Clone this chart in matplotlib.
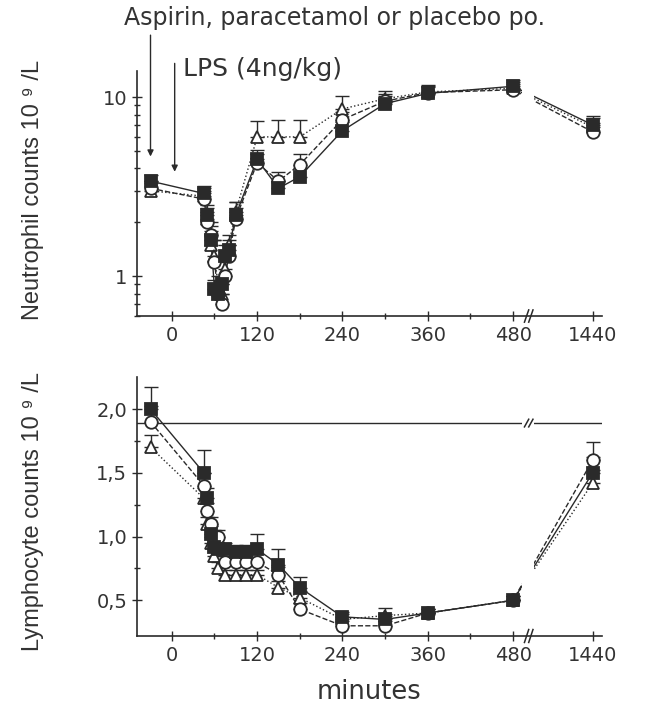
import matplotlib
matplotlib.use('Agg')
import matplotlib.pyplot as plt
import numpy as np
from matplotlib.ticker import FixedLocator, NullFormatter
import matplotlib.transforms as mtransforms

# time points (minutes); 1440 is drawn after the axis break
t_neut = [-30, 45, 50, 55, 60, 65, 70, 75, 80, 90, 120, 150, 180, 240, 300, 360, 480, 1440]
neut_asp = [3.4, 2.9, 2.2, 1.6, 0.85, 0.8, 0.9, 1.3, 1.4, 2.2, 4.5, 3.1, 3.6, 6.5, 9.2, 10.5, 11.5, 7.0]
neut_par = [3.1, 2.7, 2.0, 1.7, 1.2, 0.8, 0.7, 1.0, 1.3, 2.1, 4.3, 3.4, 4.2, 7.5, 9.5, 10.6, 11.0, 6.4]
neut_pla = [3.0, 2.8, 2.1, 1.5, 1.3, 0.9, 0.8, 1.1, 1.5, 2.3, 6.0, 6.0, 6.0, 8.6, 9.8, 10.7, 11.2, 6.8]
neut_asp_err = [0.3, 0.3, 0.3, 0.3, 0.1, 0.1, 0.1, 0.2, 0.2, 0.4, 0.6, 0.3, 0.4, 0.8, 0.9, 0.9, 0.9, 0.9]
neut_par_err = [0.3, 0.3, 0.3, 0.3, 0.4, 0.1, 0.1, 0.2, 0.2, 0.3, 0.5, 0.4, 0.6, 0.8, 0.9, 0.9, 0.9, 0.8]
neut_pla_err = [0.3, 0.3, 0.3, 0.3, 0.3, 0.1, 0.1, 0.2, 0.2, 0.3, 1.4, 1.5, 1.5, 1.5, 1.0, 1.0, 1.0, 0.9]

t_lymph = [-30, 45, 50, 55, 60, 65, 75, 90, 105, 120, 150, 180, 240, 300, 360, 480, 1440]
lymph_asp = [2.0, 1.5, 1.3, 1.02, 0.92, 0.9, 0.9, 0.88, 0.88, 0.9, 0.78, 0.6, 0.37, 0.35, 0.4, 0.5, 1.5]
lymph_par = [1.9, 1.4, 1.2, 1.1, 1.0, 1.0, 0.8, 0.8, 0.8, 0.8, 0.7, 0.43, 0.3, 0.3, 0.4, 0.5, 1.6]
lymph_pla = [1.7, 1.3, 1.1, 0.95, 0.85, 0.75, 0.7, 0.7, 0.7, 0.7, 0.6, 0.52, 0.35, 0.38, 0.4, 0.5, 1.42]
lymph_asp_err = [0.17, 0.18, 0.08, 0.06, 0.05, 0.05, 0.05, 0.05, 0.05, 0.12, 0.12, 0.08, 0.04, 0.04, 0.03, 0.03, 0.12]
lymph_par_err = [0.12, 0.1, 0.06, 0.05, 0.05, 0.05, 0.05, 0.05, 0.05, 0.06, 0.06, 0.05, 0.04, 0.04, 0.03, 0.03, 0.14]
lymph_pla_err = [0.1, 0.08, 0.05, 0.05, 0.05, 0.05, 0.04, 0.04, 0.04, 0.04, 0.05, 0.05, 0.04, 0.06, 0.03, 0.03, 0.1]
lymph_ref = 1.89

xtick_vals = [0, 120, 240, 360, 480, 1440]
xtick_labels = ['0', '120', '240', '360', '480', '1440']
minor_x = [60, 180, 300, 420]

# position used for the 1440 point after the break
POS_1440 = 592
BREAK = (493, 509)
ink = '#2a2a2a'
txt = '#333333'
plt.rcParams['font.family'] = ['Liberation Sans', 'DejaVu Sans']


def xpos(t):
    return [POS_1440 if v == 1440 else v for v in t]


def draw_series(ax, t, y, err, marker, face, ls):
    x = xpos(t)
    ax.plot(x, y, color=ink, lw=1.0, ls=ls, zorder=2)
    ax.errorbar(x, y, yerr=[np.zeros(len(err)), err], fmt='none', ecolor=ink,
                elinewidth=1.0, capsize=5, capthick=1.0, zorder=2.8)
    ax.plot(x, y, ls='none', marker=marker, ms=9, mfc=face, mec=ink, mew=1.3, zorder=3)


def style_axes(ax):
    for s in ['top', 'right']:
        ax.spines[s].set_visible(False)
    for s in ['left', 'bottom']:
        ax.spines[s].set_color(ink)
        ax.spines[s].set_linewidth(1.2)
        ax.spines[s].set_zorder(4)
    ax.set_xlim(-49, 605)
    ax.set_xticks([xpos([v])[0] for v in xtick_vals])
    ax.set_xticklabels(xtick_labels, family='DejaVu Sans')
    ax.xaxis.set_minor_locator(FixedLocator(minor_x))
    ax.tick_params(which='major', direction='inout', length=7, width=1, colors=ink,
                   labelsize=14, labelcolor=txt)
    ax.tick_params(which='minor', direction='inout', length=4, width=1, colors=ink)
    for lab in ax.get_yticklabels():
        lab.set_family('DejaVu Sans')
    # white gap over the data lines at the break
    ax.axvspan(BREAK[0], BREAK[1], ymin=0.012, ymax=1, color='white', zorder=2.9, lw=0)
    # break marks on the x axis
    trans = mtransforms.blended_transform_factory(ax.transData, ax.transAxes)
    for dx in (0, 6):
        ax.plot([BREAK[0] + 3 + dx, BREAK[0] + 9 + dx], [-0.025, 0.025], color=ink,
                lw=1.1, transform=trans, clip_on=False, zorder=5)


fig = plt.figure(figsize=(6.53, 7.15), dpi=100)
ax1 = fig.add_axes([0.2098, 0.558, 0.712, 0.3427])
ax2 = fig.add_axes([0.2098, 0.1105, 0.712, 0.362])

# Neutrophils
draw_series(ax1, t_neut, neut_pla, neut_pla_err, '^', 'white', ':')
draw_series(ax1, t_neut, neut_par, neut_par_err, 'o', 'white', '--')
draw_series(ax1, t_neut, neut_asp, neut_asp_err, 's', ink, '-')
ax1.set_yscale('log')
ax1.set_ylim(0.6, 14)
ax1.set_yticks([1, 10])
ax1.set_yticklabels(['1', '10'])
ax1.yaxis.set_minor_locator(FixedLocator([0.6, 0.7, 0.8, 0.9, 2, 3, 4, 5, 6, 7, 8, 9]))
ax1.yaxis.set_minor_formatter(NullFormatter())
style_axes(ax1)

# Lymphocytes
ax2.axhline(lymph_ref, color=ink, lw=1.0, zorder=1.5)
draw_series(ax2, t_lymph, lymph_pla, lymph_pla_err, '^', 'white', ':')
draw_series(ax2, t_lymph, lymph_par, lymph_par_err, 'o', 'white', '--')
draw_series(ax2, t_lymph, lymph_asp, lymph_asp_err, 's', ink, '-')
ax2.set_ylim(0.22, 2.25)
ax2.set_yticks([0.5, 1.0, 1.5, 2.0])
ax2.set_yticklabels(['0,5', '1,0', '1,5', '2,0'])
ax2.yaxis.set_minor_locator(FixedLocator([0.75, 1.25, 1.75]))
style_axes(ax2)
for dx in (0, 6):
    ax2.plot([BREAK[0] + 3 + dx, BREAK[0] + 9 + dx], [lymph_ref - 0.03, lymph_ref + 0.03],
             color=ink, lw=1.1, zorder=5)
ax2.set_xlabel('minutes', family='DejaVu Sans', fontsize=18.5, color=txt, labelpad=10)

narrow = ['Liberation Sans Narrow', 'Liberation Sans', 'DejaVu Sans']
ax1.set_ylabel('Neutrophil counts 10 \u2079 /L', family=narrow, fontsize=17, color=txt)
ax2.set_ylabel('Lymphocyte counts 10 \u2079 /L', family=narrow, fontsize=17, color=txt)
ax1.yaxis.set_label_coords(-0.2, 0.514)
ax2.yaxis.set_label_coords(-0.2, 0.48)

# dosing annotations
fig.text(0.19, 0.975, 'Aspirin, paracetamol or placebo po.', family='DejaVu Sans',
         fontsize=17, color=txt, ha='left', va='center')
ax1.annotate('', xy=(-30, 4.5), xytext=(-30, 23), textcoords='data',
             arrowprops=dict(arrowstyle='-|>', color=ink, lw=1.0, mutation_scale=9),
             annotation_clip=False)
ax1.annotate('', xy=(4, 3.7), xytext=(4, 16), textcoords='data',
             arrowprops=dict(arrowstyle='-|>', color=ink, lw=1.0, mutation_scale=9),
             annotation_clip=False)
ax1.text(16, 14.3, 'LPS (4ng/kg)', family='DejaVu Sans', fontsize=18, color=txt,
         ha='left', va='center')

fig.savefig('out.png', dpi=100)
